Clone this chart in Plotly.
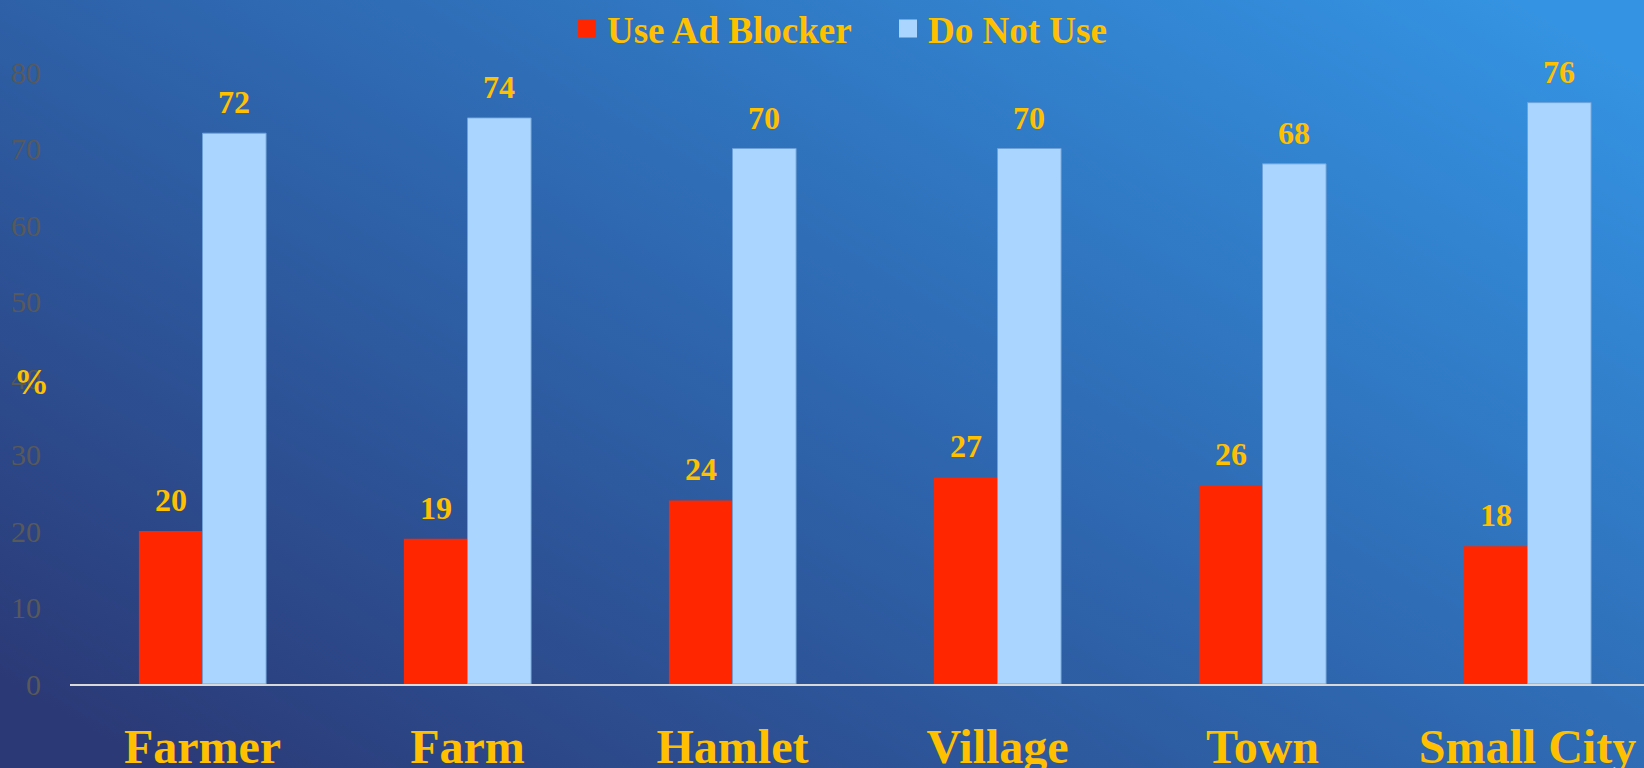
import base64
import plotly.graph_objects as go

categories = ["Farmer", "Farm", "Hamlet", "Village", "Town", "Small City"]
use_ad_blocker = [20, 19, 24, 27, 26, 18]
do_not_use = [72, 74, 70, 70, 68, 76]
series_names = ["Use Ad Blocker", "Do Not Use"]
y_ticks = [0, 10, 20, 30, 40, 50, 60, 70, 80]

W, H = 1644, 768
ML, MR, MT, MB = 70, 0, 72, 84
PW, PH = W - ML - MR, H - MT - MB

RED = "#FF2600"
LIGHT = "#A9D5FF"
GOLD = "#FFC000"
SERIF = "Liberation Serif, Times New Roman, serif"

svg = f'''<svg xmlns="http://www.w3.org/2000/svg" width="{W}" height="{H}" viewBox="0 0 {W} {H}" preserveAspectRatio="none">
<defs><linearGradient id="g" x1="0" y1="0.9" x2="1" y2="0.1">
<stop offset="0" stop-color="#2b3976"/>
<stop offset="0.5" stop-color="#2e66ae"/>
<stop offset="1" stop-color="#3493e2"/>
</linearGradient></defs>
<rect x="0" y="0" width="{W}" height="{H}" fill="url(#g)"/></svg>'''
bg_src = "data:image/svg+xml;base64," + base64.b64encode(svg.encode()).decode()

x_idx = list(range(len(categories)))
bargap = 0.52
half = (1 - bargap) / 4

fig = go.Figure()
fig.add_trace(go.Bar(x=x_idx, y=use_ad_blocker, name=series_names[0], marker_color=RED,
                     marker_line_width=0, showlegend=False))
fig.add_trace(go.Bar(x=x_idx, y=do_not_use, name=series_names[1], marker_color=LIGHT,
                     marker_line=dict(width=1, color="rgba(110,160,215,0.9)"), showlegend=False))
# legend entries with square symbols
for nm, col in zip(series_names, [RED, LIGHT]):
    fig.add_trace(go.Scatter(x=[None], y=[None], mode="markers", name=nm,
                             marker=dict(symbol="square", size=16, color=col,
                                         line=dict(width=2, color=col))))

annotations = []
for i in x_idx:
    for off, vals in ((-half, use_ad_blocker), (half, do_not_use)):
        annotations.append(dict(x=i + off, y=vals[i], xref="x", yref="y", text=f"<b>{vals[i]}</b>",
                                showarrow=False, yanchor="middle", yshift=31,
                                font=dict(family=SERIF, size=32, color=GOLD)))
annotations.append(dict(x=(31 - ML) / PW, y=40, xref="paper", yref="y", text="<b>%</b>",
                        showarrow=False, xanchor="center", yanchor="middle", yshift=-4,
                        font=dict(family=SERIF, size=35, color=GOLD)))

fig.update_layout(
    width=W, height=H,
    margin=dict(l=ML, r=MR, t=MT, b=MB, autoexpand=False),
    paper_bgcolor="#2e66ae", plot_bgcolor="rgba(0,0,0,0)",
    barmode="group", bargap=bargap, bargroupgap=0,
    images=[dict(source=bg_src, xref="paper", yref="paper", x=-ML / PW, y=1 + MT / PH,
                 sizex=W / PW, sizey=H / PH, sizing="stretch", layer="below",
                 xanchor="left", yanchor="top")],
    legend=dict(orientation="h", xref="container", yref="container", x=567 / W, y=1 - 29 / H,
                xanchor="left", yanchor="middle", bgcolor="rgba(0,0,0,0)",
                entrywidth=276, entrywidthmode="pixels",
                font=dict(family=SERIF, size=37, color=GOLD, weight="bold"),
                itemclick=False, itemdoubleclick=False),
    annotations=annotations,
    xaxis=dict(range=[-0.5, -0.5 + PW / 265.0], tickvals=x_idx, ticktext=categories,
               automargin=False,
               showgrid=False, zeroline=False, showline=True, linecolor="#d9d9d9", linewidth=2,
               ticks="outside", ticklen=19, tickcolor="rgba(0,0,0,0)",
               tickfont=dict(family=SERIF, size=48, color=GOLD, weight="bold")),
    yaxis=dict(range=[0, 80], tickvals=y_ticks, showgrid=False, zeroline=False, showline=False,
               automargin=False,
               ticks="outside", ticklen=22, tickcolor="rgba(0,0,0,0)",
               tickfont=dict(family=SERIF, size=30, color="#595959")),
)

fig.write_html("out.html", config={"displayModeBar": False},
               post_script="document.body.style.margin='0';document.body.style.overflow='hidden';")
